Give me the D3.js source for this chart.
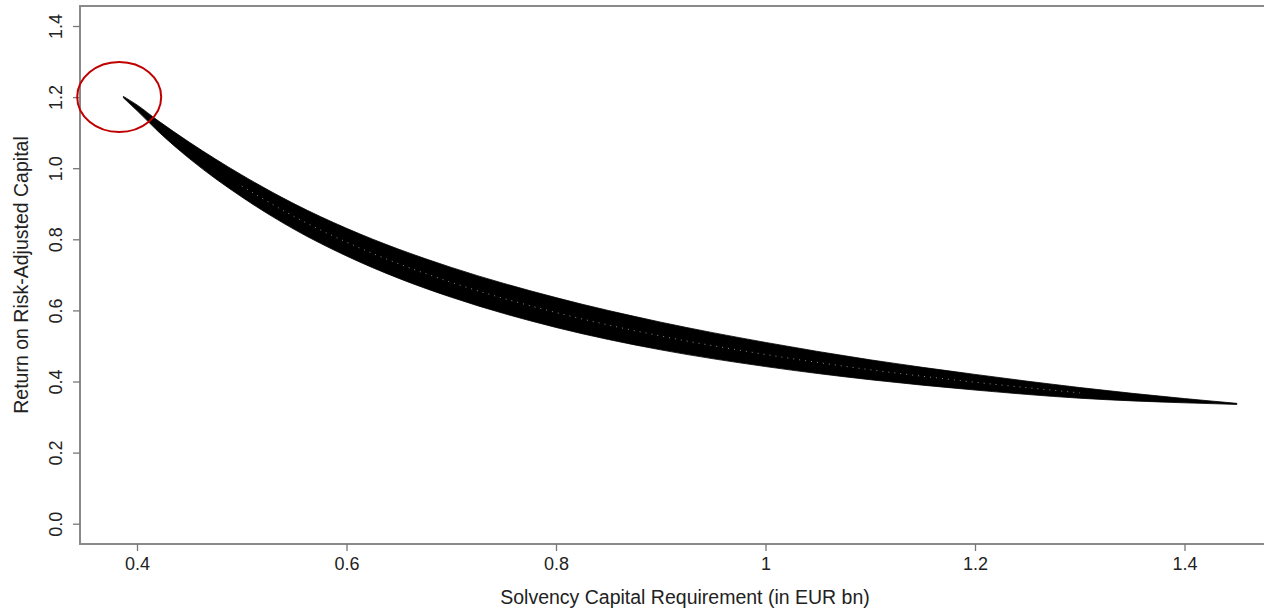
<!DOCTYPE html>
<html><head><meta charset="utf-8">
<script src="https://cdn.jsdelivr.net/npm/d3@7/dist/d3.min.js"></script>
<style>
html,body{margin:0;padding:0;background:#fff;}
svg{display:block;font-family:"Liberation Sans",Arial,sans-serif;}
</style></head>
<body>
<svg id="chart" width="1264" height="608"></svg>
<script>
// Data
const scr      = [0.387, 0.40, 0.42, 0.45, 0.50, 0.55, 0.60, 0.65, 0.70, 0.80, 0.90, 1.00, 1.10, 1.20, 1.30, 1.40, 1.45];
const rorUpper = [1.202, 1.178, 1.134, 1.073, 0.981, 0.900, 0.831, 0.772, 0.721, 0.636, 0.567, 0.510, 0.461, 0.420, 0.383, 0.352, 0.3385];
const rorLower = [1.198, 1.162, 1.104, 1.027, 0.919, 0.828, 0.753, 0.690, 0.637, 0.552, 0.489, 0.442, 0.405, 0.376, 0.353, 0.340, 0.3355];
const xTicks = [0.4, 0.6, 0.8, 1.0, 1.2, 1.4];
const xTickLabels = ["0.4", "0.6", "0.8", "1", "1.2", "1.4"];
const yTicks = [0.0, 0.2, 0.4, 0.6, 0.8, 1.0, 1.2, 1.4];
const yTickLabels = ["0.0", "0.2", "0.4", "0.6", "0.8", "1.0", "1.2", "1.4"];
const highlight = [0.383, 1.2];
const xTitle = "Solvency Capital Requirement (in EUR bn)";
const yTitle = "Return on Risk-Adjusted Capital";

const svg = d3.select("#chart");
const x = d3.scaleLinear().domain([0.4, 1.4]).range([137, 1184.5]);
const y = d3.scaleLinear().domain([0, 1.4]).range([523.7, 26]);
const box = {l: 80, t: 6, r: 1290, b: 544};

const rows = scr.map((v, i) => ({x: v, u: rorUpper[i], lo: rorLower[i]}));

// band
const area = d3.area().x(d => x(d.x)).y0(d => y(d.lo)).y1(d => y(d.u)).curve(d3.curveMonotoneX);
svg.append("path").datum(rows).attr("d", area).attr("fill", "#000").attr("stroke", "#000").attr("stroke-width", 0.8);

// faint white speckle along the middle of the band
const mid = d3.line().x(d => x(d.x)).y(d => y((d.u + d.lo) / 2)).curve(d3.curveMonotoneX);
svg.append("path").datum(rows.filter(d => d.x >= 0.5 && d.x <= 1.3)).attr("d", mid)
  .attr("fill", "none").attr("stroke", "#fff").attr("stroke-width", 1)
  .attr("stroke-dasharray", "1,5").attr("opacity", 0.55);

// box
svg.append("rect").attr("x", box.l).attr("y", box.t).attr("width", box.r - box.l).attr("height", box.b - box.t)
  .attr("fill", "none").attr("stroke", "#8a8a8a").attr("stroke-width", 2);

// x axis
const xAxis = d3.axisBottom(x).tickValues(xTicks).tickSize(7).tickPadding(6)
  .tickFormat((d, i) => xTickLabels[i]);
const gx = svg.append("g").attr("transform", `translate(0,${box.b})`).call(xAxis);
gx.select(".domain").remove();
gx.selectAll(".tick line").attr("stroke", "#777").attr("stroke-width", 1.3);
gx.selectAll(".tick text").attr("font-size", 18).attr("fill", "#222")
  .attr("font-family", "Liberation Sans, Arial, sans-serif");

// y axis
const yAxis = d3.axisLeft(y).tickValues(yTicks).tickSize(7).tickPadding(6)
  .tickFormat((d, i) => yTickLabels[i]);
const gy = svg.append("g").attr("transform", `translate(${box.l},0)`).call(yAxis);
gy.select(".domain").remove();
gy.selectAll(".tick line").attr("stroke", "#777").attr("stroke-width", 1.3);
gy.selectAll(".tick text").attr("font-size", 18).attr("fill", "#222")
  .attr("font-family", "Liberation Sans, Arial, sans-serif")
  .attr("text-anchor", "middle").attr("dy", null).attr("x", null)
  .attr("transform", "translate(-24,0) rotate(-90)").attr("dy", "0.35em");

// titles
svg.append("text").attr("x", (box.l + box.r) / 2).attr("y", 604).attr("text-anchor", "middle")
  .attr("font-size", 19.5).attr("fill", "#222").text(xTitle);
svg.append("text").attr("transform", `translate(28,${(box.t + box.b) / 2}) rotate(-90)`)
  .attr("text-anchor", "middle").attr("font-size", 19.5).attr("fill", "#222").text(yTitle);

// highlight ellipse
svg.append("ellipse").attr("cx", x(highlight[0])).attr("cy", y(highlight[1]))
  .attr("rx", 42).attr("ry", 35).attr("fill", "none").attr("stroke", "#c00000").attr("stroke-width", 2);
</script>
</body></html>
